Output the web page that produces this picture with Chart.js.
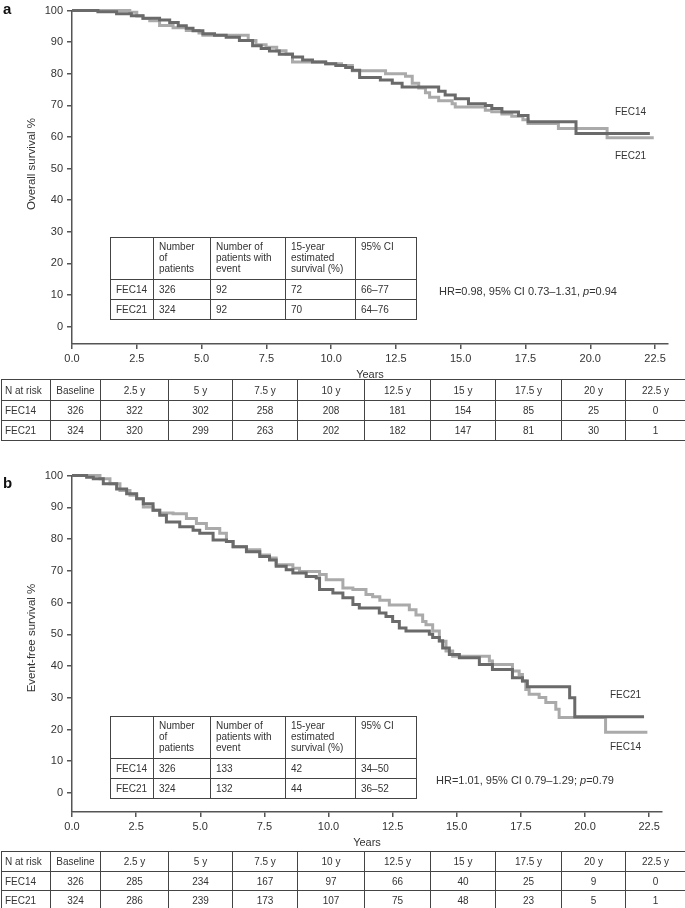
<!DOCTYPE html>
<html>
<head>
<meta charset="utf-8">
<script src="https://cdn.jsdelivr.net/npm/chart.js@4/dist/chart.umd.min.js"></script>
<style>
  body { margin: 0; background: #fff; font-family: "Liberation Sans", Arial, sans-serif; color: #333; }
  #page { position: relative; width: 685px; height: 908px; overflow: hidden; }
  canvas { position: absolute; left: 0; }
  .abs { position: absolute; white-space: nowrap; }
  .panel { font-weight: bold; font-size: 15px; color: #111; left: 3px; }
  .end { font-size: 10px; }
  .hr { font-size: 11px; }
  .ytitle { font-size: 11.5px; transform: translate(-50%, -50%) rotate(-90deg); }
  table { position: absolute; border-collapse: collapse; table-layout: fixed; font-size: 10px; color: #333; }
  td { border: 1px solid #444; padding: 0; overflow: hidden; white-space: nowrap; }
  .inset td { vertical-align: top; padding: 3px 0 0 5px; line-height: 11px; }
  .inset tr.data td { vertical-align: middle; padding-top: 0; }
  .risk td { text-align: center; vertical-align: middle; }
  .risk td:first-child { text-align: left; padding-left: 3px; }
</style>
</head>
<body>
<div id="page">
  <canvas id="osChart" width="685" height="384" style="top:0"></canvas>
  <canvas id="efsChart" width="685" height="387" style="top:465px"></canvas>

  <div class="abs panel" style="top:0">a</div>
  <div class="abs panel" style="top:474px">b</div>

  <div class="abs ytitle" style="left:31px;top:164px">Overall survival %</div>
  <div class="abs ytitle" style="left:31px;top:638px">Event-free survival %</div>

  <div class="abs end" style="left:615px;top:106px">FEC14</div>
  <div class="abs end" style="left:615px;top:150px">FEC21</div>
  <div class="abs end" style="left:610px;top:689px">FEC21</div>
  <div class="abs end" style="left:610px;top:741px">FEC14</div>

  <div class="abs hr" style="left:439px;top:285px">HR=0.98, 95% CI 0.73–1.31, <i>p</i>=0.94</div>
  <div class="abs hr" style="left:436px;top:774px">HR=1.01, 95% CI 0.79–1.29; <i>p</i>=0.79</div>

  <table class="inset" id="osInset" style="left:110px;top:237px;width:306px"></table>
  <table class="inset" id="efsInset" style="left:110px;top:716px;width:306px"></table>
  <table class="risk" id="osRisk" style="left:1px;top:379px;width:684px"></table>
  <table class="risk" id="efsRisk" style="left:1px;top:851px;width:684px"></table>
</div>

<script>
// panel a, overall survival (years, %)
const osYears14 = [0, 1.0, 1.72, 2.29, 2.74, 3.38, 3.77, 4.1, 4.41, 4.67, 5.05, 5.5, 5.95, 6.46, 6.97, 7.3, 7.62, 8.0, 8.51, 8.9, 9.28, 9.79, 10.18, 10.56, 10.82, 11.1, 11.9, 12.36, 12.74, 14.15, 14.4, 14.79, 15.3, 15.95, 16.2, 16.59, 17.23, 17.6, 19.45, 22.3];
const osSurv14  = [100, 99.6, 99.0, 98.4, 97.6, 97.0, 96.2, 95.2, 94.4, 93.6, 92.7, 92.2, 91.6, 90.5, 88.9, 88.0, 87.2, 86.2, 85.3, 84.4, 83.7, 83.2, 82.6, 82.0, 81.1, 78.8, 78.0, 77.0, 75.8, 74.5, 73.3, 72.1, 70.5, 70.0, 69.0, 67.9, 66.8, 64.8, 61.1, 61.1];
const osYears21 = [0, 2.23, 2.5, 2.74, 3.0, 3.38, 3.9, 4.41, 4.9, 5.05, 6.8, 7.1, 7.49, 7.9, 8.26, 8.51, 9.79, 10.4, 10.82, 12.1, 12.87, 13.13, 13.38, 13.64, 13.8, 14.15, 14.67, 14.79, 15.95, 16.2, 16.59, 16.97, 17.4, 17.6, 18.77, 20.65, 22.45];
const osSurv21  = [100, 99.5, 98.3, 97.5, 96.8, 95.3, 94.6, 93.7, 92.9, 92.2, 90.5, 89.2, 88.4, 87.3, 86.3, 83.7, 83.2, 82.6, 81.0, 80.0, 79.2, 77.0, 75.5, 74.0, 72.6, 71.5, 70.5, 69.5, 68.5, 68.0, 67.3, 66.6, 65.5, 64.3, 62.7, 59.8, 59.8];

// panel b, event-free survival (years, %)
const efsYears21 = [0, 0.57, 0.83, 1.22, 1.74, 2.13, 2.52, 2.78, 3.16, 3.42, 3.68, 4.2, 4.72, 4.98, 5.5, 6.02, 6.28, 6.8, 7.32, 7.7, 7.96, 8.35, 8.61, 9.13, 9.52, 9.65, 10.17, 10.56, 10.95, 11.2, 11.98, 12.24, 12.5, 12.76, 13.02, 13.93, 14.06, 14.32, 14.45, 14.71, 15.1, 15.88, 16.39, 17.17, 17.56, 17.75, 19.4, 19.6, 22.3];
const efsSurv21  = [100, 99.5, 99.0, 97.4, 95.8, 94.3, 92.7, 91.1, 89.1, 87.5, 85.4, 83.9, 82.8, 81.8, 79.7, 79.2, 77.6, 76.0, 74.5, 73.4, 71.4, 70.3, 69.3, 68.2, 67.7, 64.1, 63.0, 61.5, 59.4, 58.3, 56.7, 55.6, 54.0, 52.0, 51.0, 50.0, 49.0, 48.0, 45.7, 43.6, 42.6, 40.5, 38.9, 36.3, 35.3, 33.5, 30.0, 24.0, 24.0];
const efsYears14 = [0, 1.09, 1.48, 1.87, 2.26, 2.52, 2.78, 3.16, 3.42, 3.94, 4.46, 4.85, 5.24, 5.76, 6.02, 6.28, 6.8, 7.32, 7.7, 7.96, 8.61, 8.87, 9.65, 9.91, 10.56, 10.95, 11.46, 11.72, 12.0, 12.37, 13.15, 13.41, 13.67, 13.8, 14.06, 14.32, 14.58, 14.84, 16.27, 16.39, 17.17, 17.43, 17.56, 17.69, 17.82, 18.21, 18.47, 18.86, 18.99, 20.8, 22.43];
const efsSurv14  = [100, 99.0, 97.4, 95.3, 93.8, 92.7, 90.1, 89.1, 88.2, 88.0, 86.5, 84.9, 83.3, 81.8, 79.2, 77.6, 76.6, 75.0, 74.0, 71.9, 70.8, 69.8, 68.8, 67.2, 64.6, 64.1, 62.5, 61.8, 60.7, 59.2, 57.7, 56.1, 54.0, 53.0, 51.0, 47.8, 44.7, 43.1, 41.6, 40.5, 38.4, 37.3, 35.3, 32.6, 31.1, 30.1, 28.5, 26.4, 23.8, 19.1, 19.1];

// number at risk
const riskHeads = ['N at risk', 'Baseline', '2.5 y', '5 y', '7.5 y', '10 y', '12.5 y', '15 y', '17.5 y', '20 y', '22.5 y'];
const riskWidths = [49, 50, 68, 64, 65, 67, 66, 65, 66, 64, 60];
const osRisk14 = [326, 322, 302, 258, 208, 181, 154, 85, 25, 0];
const osRisk21 = [324, 320, 299, 263, 202, 182, 147, 81, 30, 1];
const efsRisk14 = [326, 285, 234, 167, 97, 66, 40, 25, 9, 0];
const efsRisk21 = [324, 286, 239, 173, 107, 75, 48, 23, 5, 1];

// inset summary tables
const insetHeads = ['', 'Number<br>of<br>patients', 'Number of<br>patients with<br>event', '15-year<br>estimated<br>survival (%)', '95% CI'];
const insetWidths = [43, 57, 75, 70, 61];
const osSummary14 = ['FEC14', 326, 92, 72, '66–77'];
const osSummary21 = ['FEC21', 324, 92, 70, '64–76'];
const efsSummary14 = ['FEC14', 326, 133, 42, '34–50'];
const efsSummary21 = ['FEC21', 324, 132, 44, '36–52'];

const darkGrey = '#6a6a6a';
const lightGrey = '#aaaaaa';

function colgroup(widths) {
  return '<colgroup>' + widths.map(w => `<col style="width:${w}px">`).join('') + '</colgroup>';
}

function buildInset(id, rows) {
  const tbl = document.getElementById(id);
  let html = colgroup(insetWidths);
  html += '<tr style="height:42px">' + insetHeads.map(h => `<td>${h}</td>`).join('') + '</tr>';
  rows.forEach(r => {
    html += '<tr class="data" style="height:20px">' + r.map(c => `<td>${c}</td>`).join('') + '</tr>';
  });
  tbl.innerHTML = html;
}

function buildRisk(id, r14, r21, heights) {
  const tbl = document.getElementById(id);
  let html = colgroup(riskWidths);
  html += `<tr style="height:${heights[0]}px">` + riskHeads.map(h => `<td>${h}</td>`).join('') + '</tr>';
  html += `<tr style="height:${heights[1]}px"><td>FEC14</td>` + r14.map(v => `<td>${v}</td>`).join('') + '</tr>';
  html += `<tr style="height:${heights[2]}px"><td>FEC21</td>` + r21.map(v => `<td>${v}</td>`).join('') + '</tr>';
  tbl.innerHTML = html;
}

function kmChart(id, series, yMin, padRight) {
  return new Chart(document.getElementById(id), {
    type: 'line',
    data: {
      datasets: series.map(s => ({
        label: s.label,
        data: s.t.map((t, i) => ({ x: t, y: s.v[i] })),
        borderColor: s.color,
        borderWidth: 3,
        stepped: true,
        pointRadius: 0,
        fill: false,
        clip: false
      }))
    },
    options: {
      responsive: false,
      animation: false,
      layout: { padding: { top: 8, right: padRight, left: 0, bottom: 0 } },
      plugins: { legend: { display: false }, tooltip: { enabled: false } },
      scales: {
        x: {
          type: 'linear', min: 0, max: 23,
          afterFit: s => { s.height = 40; },
          ticks: { stepSize: 2.5, includeBounds: false, autoSkip: false, maxRotation: 0, padding: 3,
                   callback: v => v.toFixed(1), color: '#333', font: { size: 11 } },
          grid: { drawOnChartArea: false, tickLength: 5, color: '#555', lineWidth: 1.5 },
          border: { color: '#555', width: 1.5 },
          title: { display: true, text: 'Years', color: '#333', font: { size: 11 }, padding: { top: 0, bottom: 2 } }
        },
        y: {
          min: yMin, max: 100,
          afterFit: s => { s.width = 72; },
          ticks: { stepSize: 10, includeBounds: false, padding: 4, color: '#333', font: { size: 11 } },
          grid: { drawOnChartArea: false, tickLength: 5, color: '#555', lineWidth: 1.5 },
          border: { color: '#555', width: 1.5 }
        }
      }
    }
  });
}

kmChart('osChart', [
  { label: 'FEC14', t: osYears14, v: osSurv14, color: darkGrey },
  { label: 'FEC21', t: osYears21, v: osSurv21, color: lightGrey }
], -5.5, 17);

kmChart('efsChart', [
  { label: 'FEC21', t: efsYears21, v: efsSurv21, color: darkGrey },
  { label: 'FEC14', t: efsYears14, v: efsSurv14, color: lightGrey }
], -6, 23);

buildInset('osInset', [osSummary14, osSummary21]);
buildInset('efsInset', [efsSummary14, efsSummary21]);
buildRisk('osRisk', osRisk14, osRisk21, [21, 20, 20]);
buildRisk('efsRisk', efsRisk14, efsRisk21, [20, 19, 19]);
</script>
</body>
</html>
